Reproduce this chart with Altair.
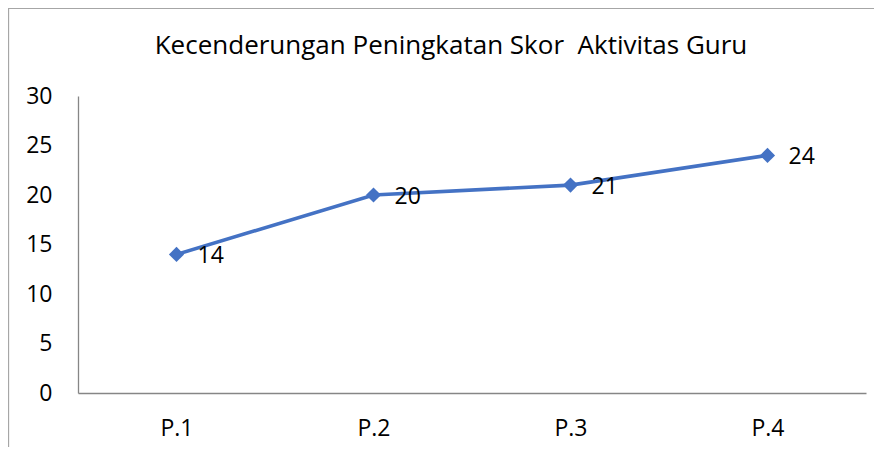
import altair as alt
import pandas as pd

categories = ["P.1", "P.2", "P.3", "P.4"]
scores = [14, 20, 21, 24]
y_ticks = [0, 5, 10, 15, 20, 25, 30]
title_text = "Kecenderungan Peningkatan Skor\u00a0 Aktivitas Guru"

df = pd.DataFrame({"kat": categories, "skor": scores})

FONT = "Open Sans"
BLUE = "#4472C4"

base = alt.Chart(df)

x_enc = alt.X("kat:N", sort=categories, title=None,
              scale=alt.Scale(type="point", padding=0.5),
              axis=alt.Axis(labelAngle=0, ticks=False, tickSize=0, labelPadding=24,
                            domainColor="#868686", domainWidth=1.3, labelFontSize=23,
                            labelFont=FONT, labelColor="black", grid=False))
y_enc = alt.Y("skor:Q", title=None,
              scale=alt.Scale(domain=[0, 30], nice=False, zero=True),
              axis=alt.Axis(values=y_ticks, ticks=False, tickSize=0, labelPadding=26,
                            domainColor="#868686", domainWidth=1.3, labelFontSize=23,
                            labelFont=FONT, labelColor="black", grid=False))

line = base.mark_line(color=BLUE, strokeWidth=3.6).encode(x=x_enc, y=y_enc)
pts = base.mark_point(shape="diamond", filled=True, size=230, color=BLUE, opacity=1).encode(x=x_enc, y=y_enc)
labels = base.mark_text(align="left", baseline="middle", dx=21, dy=2, fontSize=23,
                        font=FONT, color="black").encode(x=x_enc, y=y_enc, text="skor:Q")

border = alt.Chart(pd.DataFrame({"a": [0]})).mark_rect(
    fill=None, stroke="#A6A6A6", strokeWidth=1.3, clip=False
).encode(x=alt.value(-69.5), x2=alt.value(806), y=alt.value(-87.6), y2=alt.value(380))

chart = alt.layer(border, line, pts, labels).properties(
    width=788, height=297,
    title=alt.TitleParams(title_text, anchor="middle", fontSize=26, font=FONT,
                          fontWeight="normal", color="black", offset=-72,
                          baseline="alphabetic", dx=-21),
    autosize=alt.AutoSizeParams(type="none"),
    padding={"left": 70, "top": 88, "right": 8, "bottom": 54},
).configure(background="white").configure_view(stroke=None)

chart.save("out.html", embed_options={"renderer": "svg", "actions": False})
